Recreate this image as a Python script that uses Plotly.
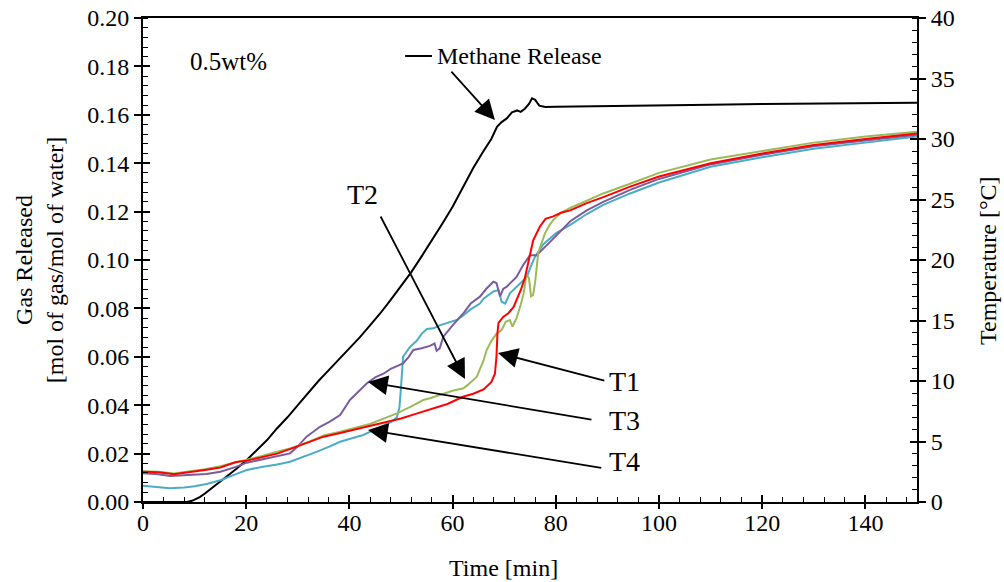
import plotly.graph_objects as go

# ---------------- data ----------------
methane_t = [0, 5, 8.5, 9.5, 11, 12, 13.5, 15.6, 18, 20.1, 22, 24, 26, 28, 30, 32, 34, 36, 38, 40, 42, 44, 46,
             48, 50, 52, 54, 56, 58, 60, 62, 64, 66, 67.5, 68.6, 69.5, 70.5, 71.5, 72.5, 73.2, 74, 74.8, 75.4,
             76, 76.8, 78, 80, 85, 90, 100, 110, 120, 130, 140, 150]
methane_v = [0, 0, 0, 0.0005, 0.002, 0.0035, 0.006, 0.0098, 0.0135, 0.0174, 0.0215, 0.0255, 0.0305, 0.035,
             0.040, 0.045, 0.050, 0.0545, 0.059, 0.0635, 0.068, 0.073, 0.078, 0.0835, 0.089, 0.095, 0.1015,
             0.108, 0.115, 0.122, 0.130, 0.138, 0.145, 0.150, 0.155, 0.157, 0.1585, 0.161, 0.1618, 0.1612,
             0.1625, 0.1645, 0.1668, 0.1662, 0.1638, 0.1632, 0.1633, 0.1634, 0.1636, 0.164, 0.1642, 0.1645,
             0.1647, 0.165, 0.165]

t1_t = [0, 3, 6, 9, 12, 15, 18, 20, 23, 26, 29, 32, 35, 38, 41, 44, 47, 50, 53, 56, 59, 62, 64, 66, 67.5,
        68.2, 68.5, 68.7, 68.9, 69.8, 70.8, 71.8, 72.4, 73.2, 74, 75, 75.6, 76.9, 78, 79.5, 81, 82.8, 86,
        89.2, 94.4, 100, 110, 120, 130, 140, 150]
t1_v = [2.5, 2.45, 2.3, 2.45, 2.65, 2.85, 3.3, 3.4, 3.7, 4.0, 4.45, 4.9, 5.4, 5.68, 6.0, 6.3, 6.6, 6.9, 7.3,
        7.7, 8.1, 8.7, 8.95, 9.3, 9.9, 10.6, 12.0, 14.0, 14.8, 15.3, 15.6, 16.1, 16.7, 17.5, 18.5, 20.3, 21.6,
        22.75, 23.4, 23.6, 23.9, 24.1, 24.7, 25.2, 26.06, 26.9, 28.0, 28.8, 29.5, 30.0, 30.45]

t2_t = [0, 3, 6, 9, 12, 15, 18, 20, 23, 26, 28.5, 32, 35, 38.2, 41, 44, 47, 49.2, 52, 54.3, 55.6, 58, 60,
        62.1, 63, 64.7, 66, 66.6, 67.5, 68.5, 69.5, 70.3, 71.1, 71.6, 72.4, 73.2, 73.8, 74.3, 74.8, 75.2,
        75.6, 76.0, 76.6, 77.9, 78.8, 79.5, 81, 82.8, 86, 89.2, 94.4, 100, 110, 120, 130, 140, 150]
t2_v = [2.55, 2.5, 2.35, 2.5, 2.7, 2.95, 3.25, 3.47, 3.8, 4.15, 4.43, 4.95, 5.5, 5.81, 6.1, 6.45, 6.95,
        7.33, 7.9, 8.43, 8.57, 8.9, 9.2, 9.4, 9.7, 10.36, 11.7, 12.56, 13.3, 13.9, 14.2, 14.9, 15.04, 14.5,
        15.2, 16.3, 17.3, 18.8, 18.5, 17.0, 17.1, 18.2, 20.6, 22.2, 22.9, 23.3, 23.9, 24.3, 24.9, 25.5,
        26.3, 27.2, 28.3, 29.0, 29.7, 30.2, 30.6]

t3_t = [0, 3, 5.2, 8, 12.3, 15, 18, 20.1, 23, 26, 28.5, 30, 31.7, 33, 34.3, 36.2, 38.2, 40.1, 42, 43.4, 45,
        46.6, 48, 50.4, 51.5, 52.4, 54, 55.6, 56.5, 56.9, 57.5, 58.2, 60, 62.1, 63.5, 65.3, 66.5, 67.9,
        68.5, 69.2, 69.8, 70.5, 72.4, 73.7, 75, 76.3, 78.9, 82.8, 86, 89.2, 94.4, 100, 110, 120, 130, 140,
        150]
t3_v = [2.37, 2.3, 2.15, 2.2, 2.31, 2.5, 2.9, 3.25, 3.5, 3.8, 4.02, 4.6, 5.4, 5.8, 6.22, 6.64, 7.19, 8.43,
        9.2, 9.81, 10.3, 10.6, 11.0, 11.46, 12.0, 12.56, 12.7, 12.9, 13.1, 12.5, 12.7, 13.66, 14.6, 15.6,
        16.4, 16.97, 17.6, 18.2, 18.1, 17.0, 17.6, 17.8, 18.6, 19.6, 20.4, 20.4, 21.5, 23.2, 24.1, 24.8,
        25.8, 26.7, 27.9, 28.7, 29.4, 29.9, 30.35]

t4_t = [0, 3, 5.2, 8, 10, 12.3, 15, 18, 20.1, 23, 26, 28.5, 31, 34, 36.2, 38.2, 40, 42.7, 45, 47, 48.2,
        49.2, 49.7, 50.0, 50.2, 50.4, 51.7, 53, 54, 55, 56.3, 57.5, 59, 60.8, 62, 63.4, 65.3, 66, 67.9,
        68.9, 69.5, 70.2, 71.1, 72.4, 74.4, 75, 76, 77.6, 80, 82.8, 86, 89.2, 94.4, 100, 110, 120, 130, 140,
        150]
t4_v = [1.35, 1.25, 1.13, 1.2, 1.3, 1.49, 1.8, 2.3, 2.64, 2.9, 3.1, 3.33, 3.7, 4.2, 4.6, 4.98, 5.2, 5.54,
        6.0, 6.4, 6.64, 7.0, 7.8, 9.5, 11.0, 12.0, 12.8, 13.3, 13.9, 14.3, 14.35, 14.6, 14.8, 15.04, 15.4,
        15.9, 16.4, 16.8, 17.4, 17.5, 16.55, 16.4, 17.25, 17.8, 18.6, 19.3, 20.3, 21.3, 22.2, 22.9, 23.8,
        24.55, 25.5, 26.4, 27.7, 28.5, 29.2, 29.7, 30.2]

x_ticks = [0, 20, 40, 60, 80, 100, 120, 140]
y_ticks = [0.00, 0.02, 0.04, 0.06, 0.08, 0.10, 0.12, 0.14, 0.16, 0.18, 0.20]
y2_ticks = [0, 5, 10, 15, 20, 25, 30, 35, 40]

FONT = "Liberation Serif"

fig = go.Figure()
colors = {"T1": "#FF0000", "T2": "#9BBB59", "T3": "#7A5C9E", "T4": "#4BACC6"}
for name, tt, vv in [("T4", t4_t, t4_v), ("T3", t3_t, t3_v), ("T2", t2_t, t2_v), ("T1", t1_t, t1_v)]:
    fig.add_trace(go.Scatter(x=tt, y=vv, mode="lines", name=name, yaxis="y2",
                             line=dict(color=colors[name], width=2)))
fig.add_trace(go.Scatter(x=methane_t, y=methane_v, mode="lines", name="Methane Release",
                         line=dict(color="black", width=2)))
# helper traces so the tick-only overlay axes are drawn
fig.add_trace(go.Scatter(x=[None], y=[None], xaxis="x2", yaxis="y3", showlegend=False, hoverinfo="skip"))
fig.add_trace(go.Scatter(x=[None], y=[None], xaxis="x", yaxis="y4", showlegend=False, hoverinfo="skip"))

base = dict(showgrid=False, zeroline=False, color="black", tickcolor="black", tickwidth=1.5,
            automargin=False)
tf = dict(tickfont=dict(family=FONT, size=24, color="black"))
minor_style = dict(ticks="inside", ticklen=5, tickcolor="black", tickwidth=1.2)

fig.update_layout(
    width=1004, height=582,
    margin=dict(l=143, r=87, t=18, b=80, autoexpand=False),
    plot_bgcolor="white", paper_bgcolor="white",
    showlegend=False,
    font=dict(family=FONT, size=24, color="black"),
    xaxis=dict(range=[0, 150], tickvals=x_ticks, ticks="inside", ticklen=7, showline=True,
               linewidth=2, linecolor="black", mirror=True, ticklabelstandoff=-2,
               minor=dict(dtick=4, **minor_style), **base, **tf),
    xaxis2=dict(range=[0, 150], overlaying="x", anchor="y", side="bottom", tickvals=x_ticks,
                ticks="outside", ticklen=6, showticklabels=False, showline=False, **base),
    yaxis=dict(range=[0, 0.2], tickvals=y_ticks, tickformat=".2f", ticks="outside", ticklen=7,
               showline=True, linewidth=2, linecolor="black",
               minor=dict(dtick=0.004, **minor_style), **base, **tf),
    yaxis2=dict(range=[0, 40], overlaying="y", side="right", anchor="x", tickvals=y2_ticks,
                ticks="outside", ticklen=7, showline=True, linewidth=2, linecolor="black",
                minor=dict(dtick=1, **minor_style), **base, **tf),
    yaxis3=dict(range=[0, 0.2], overlaying="y", side="left", anchor="x", tickvals=y_ticks,
                ticks="inside", ticklen=7, showticklabels=False, showline=False, **base),
    yaxis4=dict(range=[0, 40], overlaying="y", side="right", anchor="x", tickvals=y2_ticks,
                ticks="inside", ticklen=7, showticklabels=False, showline=False, **base),
)

ann = []
# axis titles
ann.append(dict(text="Time [min]", xref="paper", yref="paper", x=0.4664, y=-0.136, showarrow=False,
                xanchor="center", yanchor="middle", font=dict(family=FONT, size=24)))
ann.append(dict(text="Gas Released<br>[mol of gas/mol of water]", xref="paper", yref="paper", x=-0.134,
                y=0.5, showarrow=False, textangle=-90, xanchor="center", yanchor="middle",
                font=dict(family=FONT, size=24)))
ann.append(dict(text="Temperature [°C]", xref="paper", yref="paper", x=1.0917, y=0.5, showarrow=False,
                textangle=-90, xanchor="center", yanchor="middle", font=dict(family=FONT, size=24)))
# text labels
ann.append(dict(text="0.5wt%", x=8.7, y=0.1822, xref="x", yref="y", showarrow=False, xanchor="left",
                yanchor="middle", font=dict(family=FONT, size=25)))
ann.append(dict(text="Methane Release", x=56.6, y=0.1843, xref="x", yref="y", showarrow=False,
                xanchor="left", yanchor="middle", font=dict(family=FONT, size=24)))
ann.append(dict(text="T2", x=42.6, y=0.1269, xref="x", yref="y", showarrow=False, xanchor="center",
                yanchor="middle", font=dict(family=FONT, size=28)))
for lab, yv in [("T1", 0.0496), ("T3", 0.0335), ("T4", 0.0169)]:
    ann.append(dict(text=lab, x=89.9, y=yv, xref="x", yref="y", showarrow=False, xanchor="left",
                    yanchor="middle", font=dict(family=FONT, size=28)))
# arrows (head x,y ; tail ax,ay)
arrows = [
    (68.2, 0.1579, 59.5, 0.1785),
    (62.4, 0.0508, 45.9, 0.1186),
    (68.8, 0.0616, 89.7, 0.0500),
    (43.6, 0.0496, 87.2, 0.0339),
    (43.6, 0.0298, 89.1, 0.0140),
]
for hx, hy, tx, ty in arrows:
    ann.append(dict(text="", x=hx, y=hy, ax=tx, ay=ty, xref="x", yref="y", axref="x", ayref="y",
                    showarrow=True, arrowhead=2, arrowsize=2.2, arrowwidth=1.8, arrowcolor="black"))
fig.update_layout(annotations=ann)
fig.add_shape(type="line", x0=50.8, x1=56.0, y0=0.1843, y1=0.1843, xref="x", yref="y",
              line=dict(color="black", width=2))

fig.write_html("out.html")
